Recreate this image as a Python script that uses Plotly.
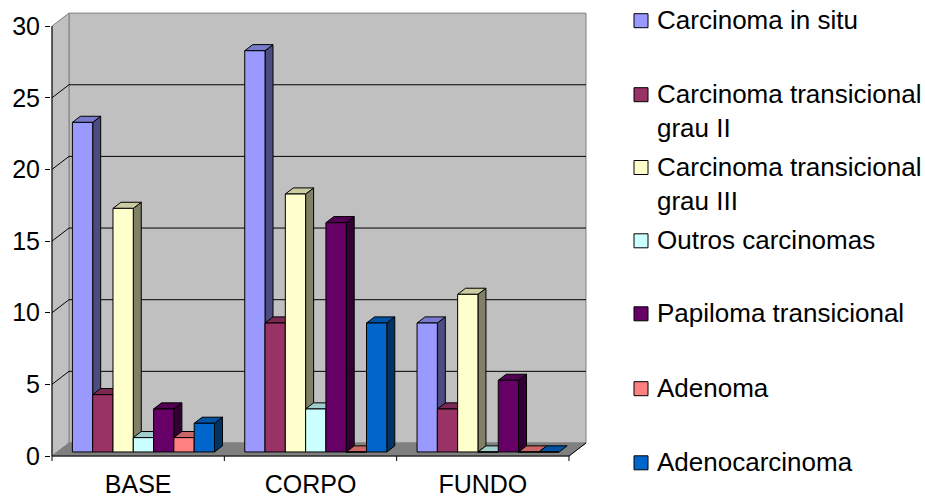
import plotly.graph_objects as go

# ---- data -------------------------------------------------------------
categories = ["BASE", "CORPO", "FUNDO"]
series_names = [
    "Carcinoma in situ",
    "Carcinoma transicional<br>grau II",
    "Carcinoma transicional<br>grau III",
    "Outros carcinomas",
    "Papiloma transicional",
    "Adenoma",
    "Adenocarcinoma",
]
carcinoma_in_situ = [23, 28, 9]
carcinoma_transicional_ii = [4, 9, 3]
carcinoma_transicional_iii = [17, 18, 11]
outros_carcinomas = [1, 3, 0]
papiloma_transicional = [3, 16, 5]
adenoma = [1, 0, 0]
adenocarcinoma = [2, 9, 0]
series_values = [
    carcinoma_in_situ,
    carcinoma_transicional_ii,
    carcinoma_transicional_iii,
    outros_carcinomas,
    papiloma_transicional,
    adenoma,
    adenocarcinoma,
]
y_tick_values = [0, 5, 10, 15, 20, 25, 30]
series_colors = ["#9999FF", "#993366", "#FFFFCC", "#CCFFFF", "#660066", "#FF8080", "#0066CC"]

# ---- geometry of the pseudo-3D box ------------------------------------
W, H = 925, 497
PX_X = 172.33          # pixels per category
PX_Y = 14.33           # pixels per unit
ORIGIN_PX = (52, 456)  # front-left-bottom corner of the box
L, R, T, B = 51, 592, 6, 463   # plot area in pixels

X_MIN = -0.5 - (ORIGIN_PX[0] - L) / PX_X
X_MAX = -0.5 + (R - ORIGIN_PX[0]) / PX_X
Y_MAX = (ORIGIN_PX[1] - T) / PX_Y
Y_MIN = -(B - ORIGIN_PX[1]) / PX_Y

n_cat = len(categories)
x_lo, x_hi = -0.5, n_cat - 0.5
y_top = y_tick_values[-1]

DX = 17 / PX_X          # full depth of the box, x direction
DY = 13 / PX_Y          # full depth of the box, y direction
F0, F1 = 0.31, 0.78     # front / back depth of the columns
BW = 20.3 / PX_X        # column width
LIFT = F0 * DY
SHIFT = F0 * DX
DDX = (F1 - F0) * DX
DDY = (F1 - F0) * DY

WALL = "#C0C0C0"
FLOOR = "#808080"
EDGE = "#808080"


def shade(hex_color, k):
    r, g, b = (int(hex_color[i:i + 2], 16) for i in (1, 3, 5))
    return "rgb({},{},{})".format(round(r * k), round(g * k), round(b * k))


def poly(points, fill, line_color, width=1, layer="below"):
    d = "M " + " L ".join(f"{x},{y}" for x, y in points) + " Z"
    return dict(type="path", path=d, xref="x", yref="y", fillcolor=fill,
                line=dict(color=line_color, width=width), layer=layer)


def seg(x0, y0, x1, y1, color, width=1, layer="below"):
    return dict(type="line", x0=x0, y0=y0, x1=x1, y1=y1, xref="x", yref="y",
                line=dict(color=color, width=width), layer=layer)


shapes = []
# back wall, side wall and floor
shapes.append(poly([(x_lo + DX, DY), (x_hi + DX, DY), (x_hi + DX, y_top + DY),
                    (x_lo + DX, y_top + DY)], WALL, EDGE))
shapes.append(poly([(x_lo, 0), (x_lo + DX, DY), (x_lo + DX, y_top + DY),
                    (x_lo, y_top)], WALL, EDGE))
shapes.append(poly([(x_lo, 0), (x_hi, 0), (x_hi + DX, DY), (x_lo + DX, DY)],
                   FLOOR, EDGE))
# gridlines on the walls
for v in y_tick_values[1:-1]:
    shapes.append(seg(x_lo + DX, v + DY, x_hi + DX, v + DY, "black"))
    shapes.append(seg(x_lo, v, x_lo + DX, v + DY, "black"))

# side and top faces of each column
bars = []
for j, (name, vals, col) in enumerate(zip(series_names, series_values, series_colors)):
    xs = [i + (j - 3) * BW + SHIFT for i in range(n_cat)]
    bars.append(go.Bar(
        x=xs, y=vals, base=LIFT, width=BW, name=name.replace("<br>", " "),
        marker=dict(color=col, line=dict(color="black", width=1)),
        showlegend=False, hoverinfo="name+y",
    ))
    for xc, v in zip(xs, vals):
        xl, xr = xc - BW / 2, xc + BW / 2
        top = LIFT + v
        if v > 0:
            shapes.append(poly([(xr, LIFT), (xr + DDX, LIFT + DDY),
                                (xr + DDX, top + DDY), (xr, top)],
                               shade(col, 0.5), "black"))
        shapes.append(poly([(xl, top), (xr, top), (xr + DDX, top + DDY),
                            (xl + DDX, top + DDY)], shade(col, 0.8), "black"))

# front edges of the box and category tick marks
shapes.append(seg(x_lo, 0, x_lo, y_top, "black", layer="above"))
shapes.append(seg(x_lo, 0, x_hi, 0, "black", layer="above"))
shapes.append(seg(x_hi, 0, x_hi + DX, DY, "black", layer="above"))
for k in range(n_cat + 1):
    shapes.append(seg(x_lo + k, 0, x_lo + k, -5 / PX_Y, "black", layer="above"))

# ---- legend drawn beside the plot ---------------------------------------
def px_to_paper(px, py):
    return (px - L) / (R - L), (B - py) / (B - T)

FONT = dict(family="Liberation Sans, Arial, sans-serif", size=25, color="black")
LEGEND_FONT = dict(FONT, size=26)
annotations = []
legend_centers = [20.7, 94.7, 167.5, 240.8, 313.8, 388.7, 462.8]
for name, col, cy in zip(series_names, series_colors, legend_centers):
    x0, y0 = px_to_paper(634, cy + 7)
    x1, y1 = px_to_paper(648, cy - 7)
    shapes.append(dict(type="rect", xref="paper", yref="paper", x0=x0, y0=y0,
                       x1=x1, y1=y1, fillcolor=col,
                       line=dict(color="black", width=1)))
    tx, ty = px_to_paper(655, cy - 17.5)
    annotations.append(dict(text=name, x=tx, y=ty, xref="paper", yref="paper",
                            xanchor="left", yanchor="top", align="left",
                            showarrow=False, font=LEGEND_FONT))

fig = go.Figure(bars)
fig.update_layout(
    width=W, height=H, autosize=False,
    margin=dict(l=L, r=W - R, t=T, b=H - B, pad=0),
    paper_bgcolor="white", plot_bgcolor="rgba(0,0,0,0)",
    barmode="overlay", showlegend=False,
    font=FONT, shapes=shapes, annotations=annotations,
    xaxis=dict(range=[X_MIN, X_MAX], tickvals=list(range(n_cat)), ticktext=categories,
               showgrid=False, zeroline=False, showline=False, ticks="",
               ticklabelstandoff=4, tickfont=FONT, automargin=False),
    yaxis=dict(range=[Y_MIN, Y_MAX], tickvals=y_tick_values, showgrid=False,
               zeroline=False, showline=False, ticks="outside", ticklen=5,
               tickcolor="black", tickwidth=1, tickfont=FONT, automargin=False),
)
fig.write_html("out.html")
